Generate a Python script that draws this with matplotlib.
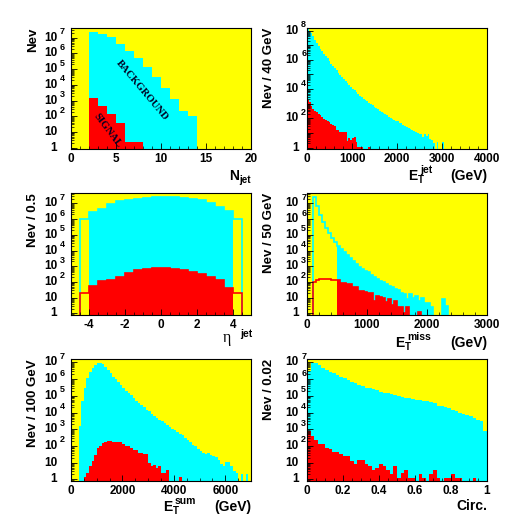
import numpy as np
import matplotlib
matplotlib.use("Agg")
import matplotlib.pyplot as plt
from matplotlib import transforms
from matplotlib.ticker import LogLocator, NullFormatter, FixedLocator

plt.rcParams['font.family'] = ['Liberation Sans', 'DejaVu Sans']
plt.rcParams['font.weight'] = 'bold'

YELLOW = '#ffff00'
CYAN = '#00ffff'
RED = '#ff0000'

# ---- N jet (bins of 1, from 2) ----
njet_edges = np.arange(2, 15)
njet_bkg = [2.5e7, 1.7e7, 1.05e7, 4.1e6, 1.5e6, 5.0e5, 1.35e5, 3.1e4, 6.1e3, 1.3e3, 220, 105]
njet_sig = [1550, 480, 140, 36, 2.4, 2.4, 0, 0, 0, 0, 0, 0]

# ---- ET jet (40 GeV bins) ----
etjet_edges = np.arange(0, 4001, 40)
etjet_bkg = [1.2e8, 1.0e8, 7.1e7, 4.0e7, 2.3e7, 1.45e7, 8.9e6, 5.6e6, 3.8e6, 2.6e6,
             1.86e6, 1.29e6, 8.7e5, 5.6e5, 4.0e5, 2.8e5, 1.95e5, 1.35e5, 9.5e4, 6.9e4,
             5.1e4, 3.7e4, 2.6e4, 1.9e4, 1.4e4, 1.05e4, 8.1e3, 6.2e3, 4.8e3, 3.6e3,
             2750, 2200, 1800, 1450, 1170, 930, 760, 620, 500, 420,
             330, 260, 225, 190, 160, 130, 112, 93, 79, 69,
             62, 52, 45, 37, 31, 25, 21, 18, 16, 13,
             11, 9.5, 9, 8, 5.6, 9, 6.3, 8, 4, 3.2,
             2, 0, 2.5, 0, 0, 2.5] + [0] * 24
etjet_sig = [1850, 1270, 650, 450, 345, 265, 215, 174, 126, 93,
             79, 67, 55, 40, 36, 32, 16, 16, 12.5, 11,
             12.5, 11, 2.9, 4.9, 3.4, 4.4, 5.7, 2.6, 1.2, 1.2,
             1.2, 0, 0, 0, 1.2] + [0] * 65

# ---- eta jet (0.5 bins, -4.5..4.5), outer bins drawn as outline only ----
eta_edges = np.arange(-4.5, 4.51, 0.5)
eta_bkg = [1.0e6, 2.8e6, 4.6e6, 9.1e6, 1.34e7, 1.7e7, 2.0e7, 2.2e7, 2.4e7,
           2.5e7, 2.4e7, 2.2e7, 1.9e7, 1.55e7, 1.05e7, 5.5e6, 3.1e6, 1.0e6]
eta_sig = [21, 55, 115, 134, 220, 360, 585, 710, 780,
           780, 710, 585, 455, 325, 220, 134, 40, 21]

# ---- ET miss (50 GeV bins), below 500 GeV outline only ----
etmiss_edges = np.arange(0, 3001, 50)
etmiss_bkg = [0, 0, 2.6e7, 6.5e6, 1.9e6, 6.4e5, 2.9e5, 1.4e5, 6.1e4, 3.4e4,
              2.0e4, 1.2e4, 7.8e3, 5.3e3, 3.2e3, 2.2e3, 1.4e3, 950, 710, 500,
              400, 270, 200, 148, 122, 95, 75, 55, 46, 34,
              31, 19, 17, 7.8, 17, 9, 12.7, 6.4, 9, 4.4,
              4.4, 2.7, 0, 0, 0, 7.8, 3, 0, 0, 0] + [0] * 10
etmiss_sig = [0, 0, 105, 134, 148, 150, 150, 155, 134, 134,
              134, 82, 82, 71, 71, 50, 50, 28, 28, 24,
              21, 21, 6.4, 12.8, 10.5, 9.1, 5.5, 7.8, 3.4, 6.1,
              2.4, 2.4, 1.1, 2.4, 0, 0, 0, 1.3, 0, 0] + [0] * 20
etmiss_cut = 500

# ---- ET sum (100 GeV bins) ----
etsum_edges = np.arange(0, 7001, 100)
etsum_bkg = [0, 0, 0, 1660, 4.8e4, 3.0e5, 1.2e6, 2.6e6, 4.8e6, 6.9e6,
             8.7e6, 8.7e6, 7.6e6, 5.5e6, 3.5e6, 2.2e6, 1.4e6, 9.5e5, 6.6e5, 4.2e5,
             2.9e5, 2.0e5, 1.5e5, 1.05e5, 7.2e4, 5.0e4, 3.8e4, 2.9e4, 2.1e4, 1.5e4,
             1.15e4, 8.7e3, 6.6e3, 5.0e3, 3.8e3, 2.9e3, 2.2e3, 1.7e3, 1.4e3, 1.1e3,
             870, 660, 550, 420, 300, 220, 166, 120, 95, 66,
             48, 38, 35, 38, 30, 24, 22, 15, 8.7, 6.6,
             10.5, 10.5, 6.6, 3.0, 2.4, 0, 2.2, 0, 2.2, 0]
etsum_sig = [0, 0, 0, 0, 0, 1.4, 2.4, 6.6, 12, 30,
             76, 105, 150, 180, 200, 200, 174, 174, 174, 166,
             138, 105, 95, 80, 60, 55, 38, 38, 35, 35,
             9.5, 6.6, 7.6, 4.8, 6.6, 2.4, 2.4, 3.5, 0, 0,
             0, 0, 1.3] + [0] * 27

# ---- Circularity (0.02 bins) ----
circ_edges = np.linspace(0, 1, 51)
circ_bkg = [3.0e6, 9.5e6, 8.7e6, 6.6e6, 4.8e6, 3.5e6, 2.6e6, 2.2e6, 1.66e6, 1.38e6,
            1.1e6, 8.7e5, 6.6e5, 5.5e5, 4.4e5, 3.8e5, 3.0e5, 2.75e5, 2.4e5, 2.1e5,
            1.74e5, 1.5e5, 1.38e5, 1.2e5, 1.05e5, 9.5e4, 9.0e4, 7.2e4, 6.9e4, 6.6e4,
            5.5e4, 5.5e4, 4.8e4, 4.8e4, 4.2e4, 3.5e4, 2.6e4, 2.4e4, 2.2e4, 1.74e4,
            1.5e4, 1.2e4, 9.5e3, 8.3e3, 6.9e3, 6.0e3, 4.8e3, 3.8e3, 3.0e3, 760]
circ_sig = [760, 417, 240, 138, 138, 76, 66, 44, 42, 35,
            26, 24, 12, 8.7, 14, 14, 8.7, 6.6, 3.8, 4.8,
            8.7, 6.6, 3.8, 2.2, 6, 1.2, 2.4, 3.5, 1.2, 1.2,
            0, 2.2, 1.2, 0, 2.2, 3.5, 1.2, 0, 1.2, 1.2,
            2.2, 1.2, 1.2, 0, 0, 0, 1.2, 0, 0, 0]

LO = 0.05


def hist(ax, edges, vals, color, fill=True, lw=1.2):
    v = np.array(vals, float)
    v = np.where(v > 0, v, LO)
    if fill:
        ax.stairs(v, edges, baseline=LO, fill=True, color=color, lw=0)
    else:
        ax.stairs(v, edges, baseline=LO, fill=False, color=color, lw=lw)


def masked(edges, vals, lo, hi):
    centers = 0.5 * (edges[1:] + edges[:-1])
    v = np.array(vals, float)
    return np.where((centers > lo) & (centers < hi), v, 0)


def setup(fig, ax, xlim, ylim, xmajor, xminor, xlabels, exps, ylab, col):
    ax.set_facecolor(YELLOW)
    ax.set_yscale('log')
    ax.set_xlim(xlim)
    ax.set_ylim(ylim)
    ax.xaxis.set_major_locator(FixedLocator(xmajor))
    ax.xaxis.set_minor_locator(FixedLocator(xminor))
    ax.set_xticklabels(xlabels)
    ax.yaxis.set_major_locator(LogLocator(base=10, numticks=20))
    ax.yaxis.set_minor_locator(LogLocator(base=10, subs=range(2, 10), numticks=20))
    ax.yaxis.set_major_formatter(NullFormatter())
    ax.yaxis.set_minor_formatter(NullFormatter())
    ax.tick_params(which='both', direction='in', top=False, right=False, color='k')
    ax.tick_params(which='major', length=4, width=0.6)
    ax.tick_params(which='minor', length=2, width=0.5)
    ax.tick_params(axis='x', labelsize=8.5, pad=3)
    for s in ax.spines.values():
        s.set_linewidth(0.8)
        s.set_color('black')

    if col == 0:
        bx, ex, lx = -0.076, -0.062, -0.21
    else:
        bx, ex, lx = -0.045, -0.032, -0.212
    trans = transforms.blended_transform_factory(ax.transAxes, ax.transData)
    up = transforms.offset_copy(trans, fig=fig, x=0, y=4.3, units='points')
    for n in exps:
        base = '1' if n == 0 else '10'
        ax.text(bx, 10.0 ** n, base, transform=trans, ha='right', va='center',
                fontsize=8.5, fontweight='bold')
        if n >= 2:
            ax.text(ex, 10.0 ** n, str(n), transform=up, ha='left', va='center',
                    fontsize=6.5, fontweight='bold')
    ax.text(lx, 1.0, ylab, transform=ax.transAxes, rotation=90, ha='center',
            va='top', fontsize=9.5, fontweight='bold')


def xlab(fig, ax, x0, yb, main, mw, sub=None, sup=None, tail=None):
    # ROOT-like axis title: big letter, small sub/superscript, unit at the right
    base = ax.transAxes
    ax.text(x0, yb, main, transform=base, ha='left', va='baseline', fontsize=10)
    if sub:
        t = transforms.offset_copy(base, fig=fig, x=mw + 0.3, y=-2.0, units='points')
        ax.text(x0, yb, sub, transform=t, ha='left', va='baseline', fontsize=7)
    if sup:
        t = transforms.offset_copy(base, fig=fig, x=mw + 2.0, y=5.0, units='points')
        ax.text(x0, yb, sup, transform=t, ha='left', va='baseline', fontsize=7.5)
    if tail:
        ax.text(1.0, yb, tail, transform=base, ha='right', va='baseline', fontsize=10)


fig = plt.figure(figsize=(5.14, 5.28), dpi=100)
W = 180 / 514
x_left, x_right = 71 / 514, 307 / 514
rows = [(1 - 149 / 528, 121 / 528), (1 - 315 / 528, 122 / 528), (1 - 481 / 528, 122 / 528)]

ax1 = fig.add_axes([x_left, rows[0][0], W, rows[0][1]])
ax2 = fig.add_axes([x_right, rows[0][0], W, rows[0][1]])
ax3 = fig.add_axes([x_left, rows[1][0], W, rows[1][1]])
ax4 = fig.add_axes([x_right, rows[1][0], W, rows[1][1]])
ax5 = fig.add_axes([x_left, rows[2][0], W, rows[2][1]])
ax6 = fig.add_axes([x_right, rows[2][0], W, rows[2][1]])

# panel 1: N jet
hist(ax1, njet_edges, njet_bkg, CYAN)
hist(ax1, njet_edges, njet_sig, RED)
setup(fig, ax1, (0, 20), (0.82, 4.2e7), [0, 5, 10, 15, 20], np.arange(0, 21, 1),
      ['0', '5', '10', '15', '20'], range(0, 8), 'Nev', 0)
ax1.text(7.89, 4360, 'BACKGROUND', rotation=-50, ha='center', va='center',
         fontsize=7.5, fontweight='bold', family='Liberation Serif', color='#000022')
ax1.text(4.03, 12.9, 'SIGNAL', rotation=-53, ha='center', va='center',
         fontsize=7.5, fontweight='bold', family='Liberation Serif', color='#000022')
xlab(fig, ax1, 0.878, -0.256, 'N', 7.2, sub='jet')

# panel 2: ET jet
hist(ax2, etjet_edges, etjet_bkg, CYAN)
hist(ax2, etjet_edges, etjet_sig, RED)
setup(fig, ax2, (0, 4000), (0.81, 1.5e8), [0, 1000, 2000, 3000, 4000],
      np.arange(0, 4001, 200), ['0', '1000', '2000', '3000', '4000'],
      [0, 2, 4, 6, 8], 'Nev / 40 GeV', 1)
xlab(fig, ax2, 0.561, -0.256, 'E', 6.7, sub='T', sup='jet', tail='(GeV)')

# panel 3: eta jet
hist(ax3, eta_edges, eta_bkg, CYAN, fill=False)
hist(ax3, eta_edges, masked(eta_edges, eta_bkg, -4, 4), CYAN)
hist(ax3, eta_edges, eta_sig, RED, fill=False)
hist(ax3, eta_edges, masked(eta_edges, eta_sig, -4, 4), RED)
setup(fig, ax3, (-5, 5), (0.78, 4.6e7), [-4, -2, 0, 2, 4], np.arange(-5, 5.01, 0.5),
      ['-4', '-2', '0', '2', '4'], range(0, 8), 'Nev / 0.5', 0)
ax3.text(0.845, -0.221, '\u03b7', transform=ax3.transAxes, ha='left',
         va='baseline', fontsize=11.5, fontweight='normal', family='Liberation Serif')
ax3.text(1.005, -0.18, 'jet', transform=ax3.transAxes, ha='right',
         va='baseline', fontsize=7.5, fontweight='bold')

# panel 4: ET miss
hist(ax4, etmiss_edges, etmiss_bkg, CYAN, fill=False)
hist(ax4, etmiss_edges, masked(etmiss_edges, etmiss_bkg, etmiss_cut, 1e9), CYAN)
hist(ax4, etmiss_edges, etmiss_sig, RED, fill=False)
hist(ax4, etmiss_edges, masked(etmiss_edges, etmiss_sig, etmiss_cut, 1e9), RED)
setup(fig, ax4, (0, 3000), (0.78, 4.6e7), [0, 1000, 2000, 3000],
      np.arange(0, 3001, 200), ['0', '1000', '2000', '3000'],
      range(0, 8), 'Nev / 50 GeV', 1)
xlab(fig, ax4, 0.489, -0.262, 'E', 6.7, sub='T', sup='miss', tail='(GeV)')

# panel 5: ET sum
hist(ax5, etsum_edges, etsum_bkg, CYAN)
hist(ax5, etsum_edges, etsum_sig, RED)
setup(fig, ax5, (0, 7000), (0.79, 1.6e7), [0, 2000, 4000, 6000],
      np.arange(0, 7001, 500), ['0', '2000', '4000', '6000'],
      range(0, 8), 'Nev / 100 GeV', 0)
xlab(fig, ax5, 0.511, -0.246, 'E', 6.7, sub='T', sup='sum', tail='(GeV)')

# panel 6: circularity
hist(ax6, circ_edges, circ_bkg, CYAN)
hist(ax6, circ_edges, circ_sig, RED)
setup(fig, ax6, (0, 1), (0.79, 1.6e7), [0, 0.2, 0.4, 0.6, 0.8, 1.0],
      np.arange(0, 1.001, 0.05), ['0', '0.2', '0.4', '0.6', '0.8', '1'],
      range(0, 8), 'Nev / 0.02', 1)
xlab(fig, ax6, 0.0, -0.238, '', 0, tail='Circ.')

fig.savefig('out.png', dpi=100)
